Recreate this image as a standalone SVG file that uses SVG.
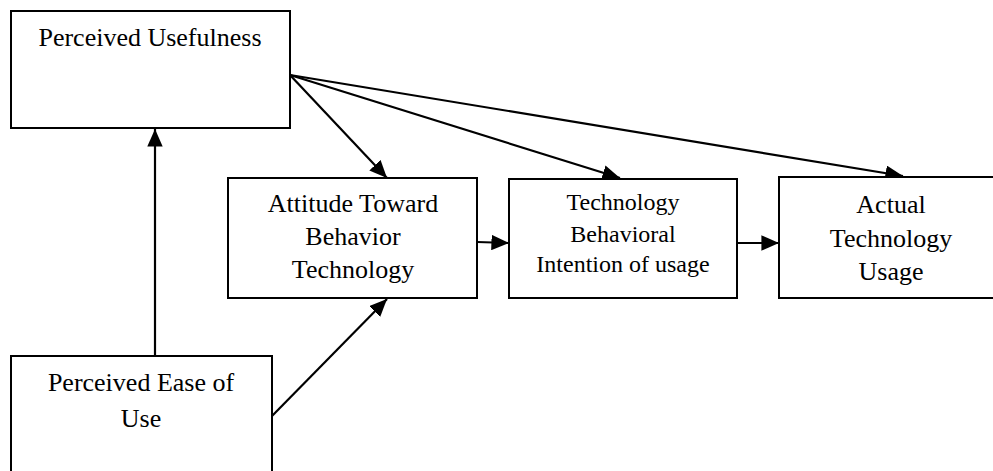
<svg xmlns="http://www.w3.org/2000/svg" width="993" height="471" viewBox="0 0 993 471">
<defs>
<marker id="ah" markerUnits="strokeWidth" markerWidth="8" markerHeight="7" refX="8" refY="3.5" orient="auto">
<path d="M0,0 L8,3.5 L0,7 Z" fill="#000"/>
</marker>
<style>
.box{fill:#fff;stroke:#000;stroke-width:2}
.t{font-family:"Liberation Serif","Times New Roman",serif;font-size:26px;fill:#000;text-anchor:middle}
.s{font-size:24px}
.c{stroke:#000;stroke-width:2.2;fill:none;marker-end:url(#ah)}
</style>
</defs>
<rect width="993" height="471" fill="#fff"/>
<g id="connectors">
<line class="c" x1="155" y1="356" x2="155" y2="129"/>
<line class="c" x1="290" y1="75" x2="387" y2="178"/>
<line class="c" x1="290" y1="75" x2="620" y2="178"/>
<line class="c" x1="290" y1="75" x2="903" y2="176"/>
<line class="c" x1="272" y1="416" x2="387" y2="299"/>
<line class="c" x1="477" y1="242" x2="509" y2="243"/>
<line class="c" x1="737" y1="243" x2="779" y2="243"/>
</g>
<g id="pu">
<rect class="box" x="11" y="11" width="279" height="117"/>
<text class="t" x="150" y="46">Perceived Usefulness</text>
</g>
<g id="attitude">
<rect class="box" x="228" y="178" width="249" height="120"/>
<text class="t" x="353" y="212">Attitude Toward</text>
<text class="t" x="353" y="245">Behavior</text>
<text class="t" x="353" y="278">Technology</text>
</g>
<g id="intention">
<rect class="box" x="509" y="179" width="228" height="119"/>
<text class="t s" x="623" y="210">Technology</text>
<text class="t s" x="623" y="242">Behavioral</text>
<text class="t s" x="623" y="272">Intention of usage</text>
</g>
<g id="actual">
<rect class="box" x="779" y="177" width="225" height="121"/>
<text class="t" x="891" y="213">Actual</text>
<text class="t" x="891" y="247">Technology</text>
<text class="t" x="891" y="280">Usage</text>
</g>
<g id="peou">
<rect class="box" x="11" y="356" width="261" height="130"/>
<text class="t" x="141" y="391">Perceived Ease of</text>
<text class="t" x="141" y="427">Use</text>
</g>
</svg>
